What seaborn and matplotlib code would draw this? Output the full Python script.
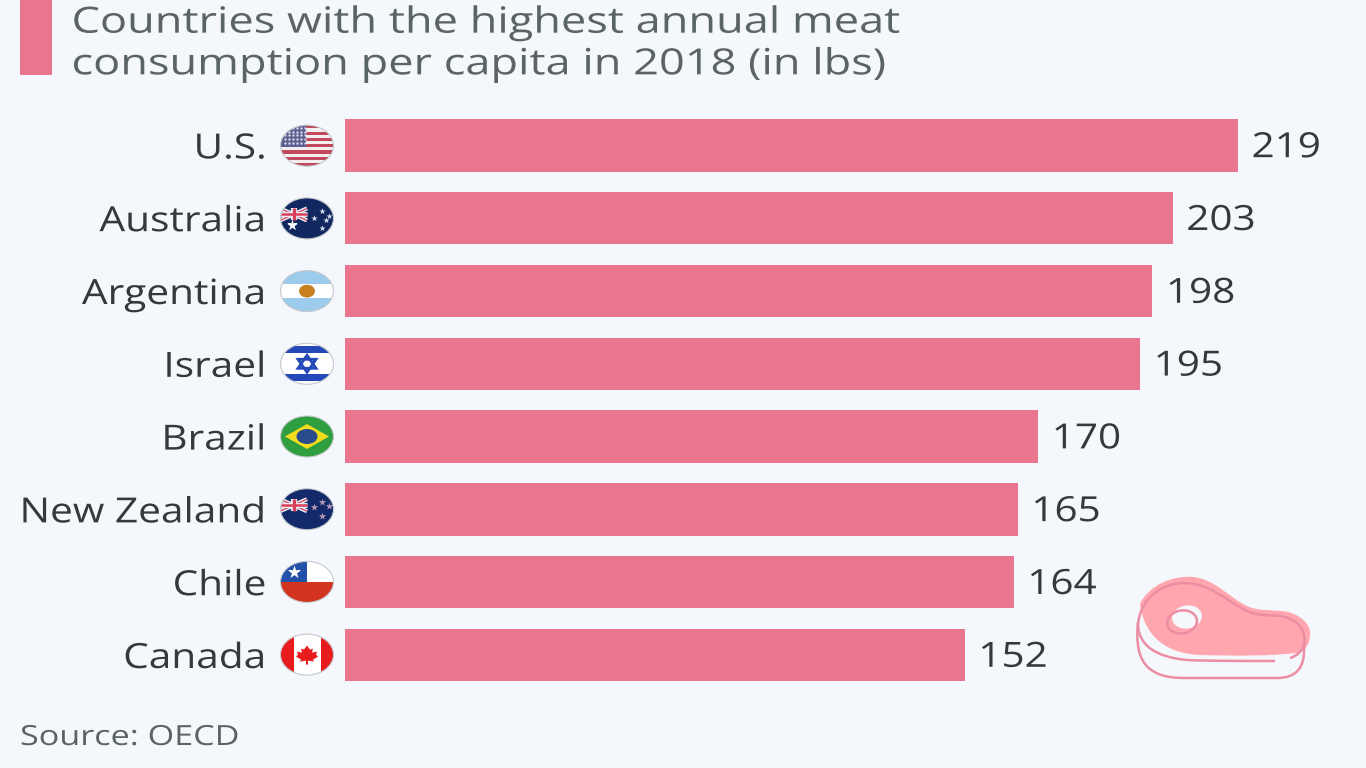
import pandas as pd
import numpy as np
import matplotlib
matplotlib.use('Agg')
import matplotlib.pyplot as plt
import seaborn as sns
from matplotlib.patches import Ellipse, Rectangle, Polygon, PathPatch
from matplotlib.path import Path
from matplotlib.patheffects import AbstractPathEffect
from matplotlib.transforms import Affine2D

# Chart data
countries = ['U.S.', 'Australia', 'Argentina', 'Israel', 'Brazil', 'New Zealand', 'Chile', 'Canada']
values = [219, 203, 198, 195, 170, 165, 164, 152]
title_text = 'Countries with the highest annual meat\nconsumption per capita in 2018 (in lbs)'
source_text = 'Source: OECD'

BG = '#f4f8fc'
BAR = '#ea758f'
TEXT = '#333a3a'
GREY = '#5b6464'

sns.set_theme(style='white')
plt.rcParams['font.family'] = ['Open Sans', 'DejaVu Sans']

W, H = 1366, 768


# The reference text is wider than any installed face, so widen it at draw time
class Widen(AbstractPathEffect):
    def __init__(self, k, anchor=None):
        super().__init__()
        self.k = k
        self.anchor = anchor

    def draw_path(self, renderer, gc, tpath, affine, rgbFace=None):
        if self.anchor is None:
            aff = Affine2D().scale(self.k, 1) + affine
        else:
            aff = affine + Affine2D().translate(-self.anchor, 0).scale(self.k, 1).translate(self.anchor, 0)
        renderer.draw_path(gc, tpath, aff, rgbFace)


fig = plt.figure(figsize=(W / 100, H / 100), dpi=100, facecolor=BG)

# Bars, placed so that the plot area lines up with the reference in pixels
left, right, top, bottom = 345, 1366, 109, 691.4
ax = fig.add_axes([left / W, 1 - bottom / H, (right - left) / W, (bottom - top) / H])
ax.set_facecolor('none')
df = pd.DataFrame({'country': countries, 'value': values})
sns.barplot(data=df, y='country', x='value', color=BAR, saturation=1, width=0.72, linewidth=0, ax=ax)
ax.set_xlim(0, (right - left) / 4.078)
ax.set_xlabel('')
ax.set_ylabel('')
ax.xaxis.set_visible(False)
sns.despine(ax=ax, left=True, bottom=True)
ax.tick_params(axis='y', length=0, pad=56.6, labelsize=25, labelcolor=TEXT)
for lab in ax.get_yticklabels():
    lab.set_path_effects([Widen(1.17, anchor=265)])
for lab in ax.bar_label(ax.containers[0], padding=9.7, fontsize=25, color=TEXT):
    lab.xyann = (9.7, -2)
    lab.set_path_effects([Widen(1.165)])

# Overlay in pixel coordinates for title, flags and icon
ov = fig.add_axes([0, 0, 1, 1])
ov.set_xlim(0, W)
ov.set_ylim(H, 0)
ov.axis('off')
ov.set_facecolor('none')

ov.add_patch(Rectangle((20, 0), 32, 75, color=BAR, lw=0))
t = ov.text(71.5, 44.5, title_text, fontsize=26, color=GREY, ha='left', va='center', linespacing=1.21)
t.set_path_effects([Widen(1.25)])
t = ov.text(20, 738, source_text, fontsize=20, color=GREY, ha='left', va='center')
t.set_path_effects([Widen(1.23)])

FX, FW, FH = 307, 53, 41
ROW = 72.7
Y0 = 145.7


def clip_add(patch, clip):
    ov.add_patch(patch)
    patch.set_clip_path(clip)
    return patch


def rect(x0, y0, x1, y1, color, clip):
    return clip_add(Rectangle((x0, y0), x1 - x0, y1 - y0, color=color, lw=0), clip)


def stars(xs, ys, size, clip, color='white'):
    s = ov.scatter(xs, ys, marker='*', s=size, color=color, lw=0, zorder=4)
    s.set_clip_path(clip)


def union_jack(cy, clip):
    x0, x1, y0, y1 = FX - 27, FX, cy - 10, cy + 2
    ym, xm = (y0 + y1) / 2, (x0 + x1) / 2
    for a, b in [((x0, y0), (x1, y1)), ((x0, y1), (x1, y0))]:
        for c, w in [('#eef0f6', 3), ('#d8506a', 1)]:
            l, = ov.plot(*zip(a, b), color=c, lw=w, zorder=3, solid_capstyle='butt')
            l.set_clip_path(clip)
    for pts, w, c in [(((x0, ym), (x1, ym)), 3.5, '#eef0f6'),
                      (((xm, y0), (xm, y1)), 4.5, '#eef0f6'),
                      (((x0, ym), (x1, ym)), 1.8, '#d8405a'),
                      (((xm, y0), (xm, y1)), 2.4, '#d8405a')]:
        l, = ov.plot(*zip(*pts), color=c, lw=w, zorder=3, solid_capstyle='butt')
        l.set_clip_path(clip)


def draw_flag(name, cy):
    clip = Ellipse((FX, cy), FW, FH, transform=ov.transData)
    x0, x1 = FX - FW / 2, FX + FW / 2
    y0, y1 = cy - FH / 2, cy + FH / 2
    if name == 'U.S.':
        rect(x0, y0, x1, y1, '#f4eef0', clip)
        sh = FH / 13
        for i in range(0, 13, 2):
            rect(x0, y0 + i * sh, x1, y0 + (i + 1) * sh, '#c04a5c', clip)
        rect(x0, y0, FX - 1, y0 + 7 * sh, '#5a5f90', clip)
        xs = [x0 + 4 + 4 * i for i in range(6) for j in range(5)]
        ys = [y0 + 3 + 3.6 * j for i in range(6) for j in range(5)]
        s = ov.scatter(xs, ys, marker='o', s=3, color='#d6d8ea', lw=0, zorder=4)
        s.set_clip_path(clip)
    elif name == 'Australia':
        rect(x0, y0, x1, y1, '#10285f', clip)
        union_jack(cy, clip)
        stars([FX - 15], [cy + 7], 70, clip)
        stars([FX + 7, FX + 15, FX + 22, FX + 15, FX + 19],
              [cy, cy - 7, cy - 2, cy + 10, cy + 2], 22, clip, '#d8e0f0')
    elif name == 'Argentina':
        rect(x0, y0, x1, y1, '#9ccbec', clip)
        rect(x0, cy - 7, x1, cy + 7, 'white', clip)
        clip_add(Ellipse((FX, cy), 15, 12, fc='#c8801e', ec='#b87018', lw=0.5, zorder=3), clip)
    elif name == 'Israel':
        rect(x0, y0, x1, y1, 'white', clip)
        rect(x0, y0 + 3, x1, y0 + 10, '#2348b8', clip)
        rect(x0, y1 - 10, x1, y1 - 3, '#2348b8', clip)
        for sgn in (1, -1):
            ov.add_patch(Polygon([(FX - 9, cy + sgn * 4.5), (FX + 9, cy + sgn * 4.5), (FX, cy - sgn * 8.5)],
                                 fill=False, ec='#2348b8', lw=2))
    elif name == 'Brazil':
        rect(x0, y0, x1, y1, '#2f9e3f', clip)
        clip_add(Polygon([(FX - 22, cy), (FX, cy - 12.5), (FX + 22, cy), (FX, cy + 12.5)], color='#f2dc1e', lw=0), clip)
        clip_add(Ellipse((FX, cy), 21, 15, color='#2b4c8c', lw=0, zorder=3), clip)
    elif name == 'New Zealand':
        rect(x0, y0, x1, y1, '#12296a', clip)
        union_jack(cy, clip)
        stars([FX + 7, FX + 15, FX + 22, FX + 15], [cy - 2, cy - 7, cy - 3, cy + 7], 30, clip, '#b89ab8')
    elif name == 'Chile':
        rect(x0, y0, x1, y1, 'white', clip)
        rect(x0, cy, x1, y1, '#d23420', clip)
        rect(x0, y0, FX, cy, '#2350a8', clip)
        stars([FX - 13], [cy - 10], 100, clip)
    elif name == 'Canada':
        rect(x0, y0, x1, y1, 'white', clip)
        rect(x0, y0, x0 + 13, y1, '#e81c1c', clip)
        rect(x1 - 13, y0, x1, y1, '#e81c1c', clip)
        leaf = np.array([(0, -9), (3, -5), (6, -6), (5, -2), (10, -3), (9, 0), (11, 2), (6, 5), (7, 7),
                         (1, 6), (1, 10), (-1, 10), (-1, 6), (-7, 7), (-6, 5), (-11, 2), (-9, 0), (-10, -3),
                         (-5, -2), (-6, -6), (-3, -5)], dtype=float)
        ov.add_patch(Polygon(leaf + [FX, cy], color='#e81c1c', lw=0))
    ov.add_patch(Ellipse((FX, cy), FW, FH, fill=False, ec='#c4c8cc', lw=0.8, zorder=5))


for i, name in enumerate(countries):
    draw_flag(name, Y0 + i * ROW)


# Meat icon, traced in pixels from the reference
def bez(points, **kw):
    verts = [points[0]]
    codes = [Path.MOVETO]
    for p in points[1:]:
        verts.append(p)
        codes.append(Path.CURVE4)
    p = PathPatch(Path(verts, codes), **kw)
    ov.add_patch(p)
    return p


LINE = '#ec8ea3'
FILL = '#ffa6ae'
bez([(1140, 604), (1148, 586), (1172, 575), (1193, 577),
     (1215, 579), (1228, 597), (1247, 606),
     (1258, 611), (1270, 610), (1282, 611),
     (1300, 613), (1312, 625), (1310, 636),
     (1309, 646), (1304, 652), (1296, 653),
     (1270, 656), (1240, 656), (1198, 655),
     (1170, 653), (1145, 640), (1140, 604)], fc=FILL, ec='none', lw=0)
bez([(1138, 625), (1140, 598), (1162, 583), (1185, 583),
     (1212, 584), (1228, 602), (1247, 611),
     (1260, 617), (1272, 614), (1285, 617),
     (1298, 620), (1307, 632), (1304, 645),
     (1303, 650), (1297, 656), (1290, 658)], fc='none', ec=LINE, lw=1.8)
bez([(1138, 625), (1139, 645), (1155, 657), (1187, 660),
     (1205, 661), (1250, 661), (1275, 661)], fc='none', ec=LINE, lw=1.8)
bez([(1138, 622), (1136, 642), (1138, 660), (1150, 669),
     (1162, 678), (1175, 678), (1190, 678),
     (1220, 678), (1255, 678), (1277, 678),
     (1296, 678), (1305, 668), (1304, 647)], fc='none', ec=LINE, lw=1.8)
ov.add_patch(Ellipse((1187, 617), 30, 23, angle=-10, color=BG, lw=0))
ov.add_patch(Ellipse((1182, 622), 30, 23, angle=-10, fill=False, ec=LINE, lw=1.8))

fig.savefig('out.png', dpi=100, facecolor=BG)
